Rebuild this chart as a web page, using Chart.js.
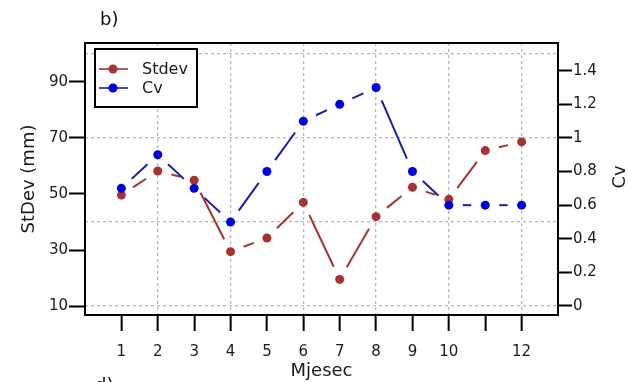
<!DOCTYPE html>
<html>
<head>
<meta charset="utf-8">
<script src="https://cdn.jsdelivr.net/npm/chart.js@4/dist/chart.umd.min.js"></script>
<style>
  html, body { margin: 0; padding: 0; background: #fff; overflow: hidden; }
  #wrap { position: relative; width: 628px; height: 382px; overflow: hidden; }
  .tag { position: absolute; font: 18px/18px "DejaVu Sans", sans-serif; color: #111; }
</style>
</head>
<body>
<div id="wrap">
  <canvas id="chart" width="628" height="382"></canvas>
  <div class="tag" style="left:100px; top:10px;">b)</div>
  <div class="tag" style="left:95px; top:376px;">d)</div>
</div>
<script>
// values
const months = [1, 2, 3, 4, 5, 6, 7, 8, 9, 10, 11, 12];
const stdev = [49.6, 58.2, 54.9, 29.4, 34.3, 47.0, 19.5, 41.9, 52.4, 48.1, 65.5, 68.6];
const cv = [0.70, 0.90, 0.70, 0.50, 0.80, 1.10, 1.20, 1.30, 0.80, 0.60, 0.60, 0.60];

const xTicks = [1, 2, 3, 4, 5, 6, 7, 8, 9, 10, 11, 12];
const xTickLabels = ["1", "2", "3", "4", "5", "6", "7", "8", "9", "10", "", "12"];
const xGridAt = [2, 4, 6, 8, 10, 12];
const stdevTicks = [10, 30, 50, 70, 90];
const cvTicks = [0, 0.2, 0.4, 0.6, 0.8, 1, 1.2, 1.4];
const cvGridAt = [0, 0.5, 1, 1.5];

const RED = "#a5332f";
const BLUE_LINE = "#1a1da8";
const BLUE_PT = "#0000e6";
const GRID = "#b8b8b8";
const GAP = 14; // blank space left around every marker

Chart.defaults.font.family = "'DejaVu Sans', sans-serif";
Chart.defaults.color = "#1a1a1a";

// lines stop short of the markers
const gapDash = (ctx) => {
  const L = Math.hypot(ctx.p1.x - ctx.p0.x, ctx.p1.y - ctx.p0.y);
  return [0, GAP, Math.max(L - 2 * GAP, 0), GAP];
};

const framePlugin = {
  id: "frame",
  afterDraw(chart) {
    const { ctx, chartArea: a } = chart;
    ctx.save();
    ctx.strokeStyle = "#000";
    ctx.lineWidth = 2;
    ctx.strokeRect(a.left, a.top, a.right - a.left, a.bottom - a.top);

    // right axis title, reading bottom to top
    ctx.translate(620, (a.top + a.bottom) / 2 - 2);
    ctx.rotate(-Math.PI / 2);
    ctx.fillStyle = "#1a1a1a";
    ctx.font = "18px 'DejaVu Sans'";
    ctx.textAlign = "center";
    ctx.textBaseline = "middle";
    ctx.fillText("Cv", 0, 0);
    ctx.restore();

    // legend box in the upper left corner
    const bx = a.left + 10, by = a.top + 6, bw = 102, bh = 58;
    ctx.save();
    ctx.fillStyle = "#fff";
    ctx.fillRect(bx, by, bw, bh);
    ctx.strokeStyle = "#000";
    ctx.lineWidth = 2;
    ctx.strokeRect(bx, by, bw, bh);
    ctx.font = "16px 'DejaVu Sans'";
    ctx.textBaseline = "middle";
    chart.data.datasets.slice().reverse().forEach((ds, i) => {
      const y = by + 20 + i * 19;
      ctx.strokeStyle = ds.borderColor;
      ctx.lineWidth = 1.6;
      ctx.beginPath();
      ctx.moveTo(bx + 4, y);
      ctx.lineTo(bx + 33, y);
      ctx.stroke();
      ctx.fillStyle = ds.pointBackgroundColor;
      ctx.beginPath();
      ctx.arc(bx + 18, y, 4.5, 0, Math.PI * 2);
      ctx.fill();
      ctx.fillStyle = "#1a1a1a";
      ctx.fillText(ds.label, bx + 47, y + 1);
    });
    ctx.restore();
  }
};

new Chart(document.getElementById("chart"), {
  type: "line",
  data: {
    datasets: [
      {
        label: "Cv",
        yAxisID: "y2",
        data: months.map((m, i) => ({ x: m, y: cv[i] })),
        borderColor: BLUE_LINE,
        borderWidth: 2,
        pointBackgroundColor: BLUE_PT,
        pointBorderWidth: 0,
        pointRadius: 4.5,
        segment: { borderDash: gapDash },
        order: 0
      },
      {
        label: "Stdev",
        yAxisID: "y",
        data: months.map((m, i) => ({ x: m, y: stdev[i] })),
        borderColor: RED,
        borderWidth: 2,
        pointBackgroundColor: RED,
        pointBorderWidth: 0,
        pointRadius: 4.5,
        segment: { borderDash: gapDash },
        order: 1
      }
    ]
  },
  options: {
    responsive: false,
    devicePixelRatio: 1,
    animation: false,
    layout: { padding: { top: 43, left: 0, right: 0, bottom: 0 } },
    plugins: { legend: { display: false }, tooltip: { enabled: false } },
    scales: {
      x: {
        type: "linear",
        min: 0,
        max: 13,
        afterBuildTicks: (s) => { s.ticks = xTicks.map((v) => ({ value: v })); },
        afterFit: (s) => { s.height = 67; },
        ticks: {
          autoSkip: false,
          maxRotation: 0,
          padding: 12,
          font: { size: 15 },
          callback: (v) => xTickLabels[xTicks.indexOf(v)]
        },
        grid: {
          color: (c) => (xGridAt.includes(c.tick && c.tick.value) ? GRID : "rgba(0,0,0,0)"),
          lineWidth: 1.3,
          tickColor: "#000",
          tickWidth: 2,
          tickLength: 16,
          tickBorderDash: []
        },
        border: { display: false, dash: [3, 3] },
        title: { display: true, text: "Mjesec", font: { size: 18 }, padding: { top: 0, bottom: 0 } }
      },
      y: {
        position: "left",
        min: 6.8,
        max: 103.9,
        afterBuildTicks: (s) => { s.ticks = stdevTicks.map((v) => ({ value: v })); },
        afterFit: (s) => { s.width = 85; },
        ticks: { padding: 1, font: { size: 15 }, callback: (v) => String(v) },
        grid: { drawOnChartArea: false, color: "#000", tickWidth: 2, tickLength: 16 },
        border: { display: false },
        title: { display: true, text: "StDev (mm)", font: { size: 18 }, padding: { top: 19, bottom: 0 } }
      },
      y2: {
        position: "right",
        min: -0.0536,
        max: 1.565,
        weight: 1,
        afterBuildTicks: (s) => { s.ticks = cvTicks.map((v) => ({ value: v })); },
        afterFit: (s) => { s.width = 70; },
        ticks: { padding: 1, font: { size: 15 }, callback: (v) => String(v) },
        grid: { drawOnChartArea: false, color: "#000", tickWidth: 2, tickLength: 14 },
        border: { display: false }
      },
      yg: {
        position: "right",
        min: -0.0536,
        max: 1.565,
        weight: 0,
        afterBuildTicks: (s) => { s.ticks = cvGridAt.map((v) => ({ value: v })); },
        afterFit: (s) => { s.width = 0; },
        ticks: { display: false },
        grid: { color: GRID, lineWidth: 1.3, drawTicks: false },
        border: { display: false, dash: [3, 3] }
      }
    }
  },
  plugins: [framePlugin]
});
</script>
</body>
</html>
